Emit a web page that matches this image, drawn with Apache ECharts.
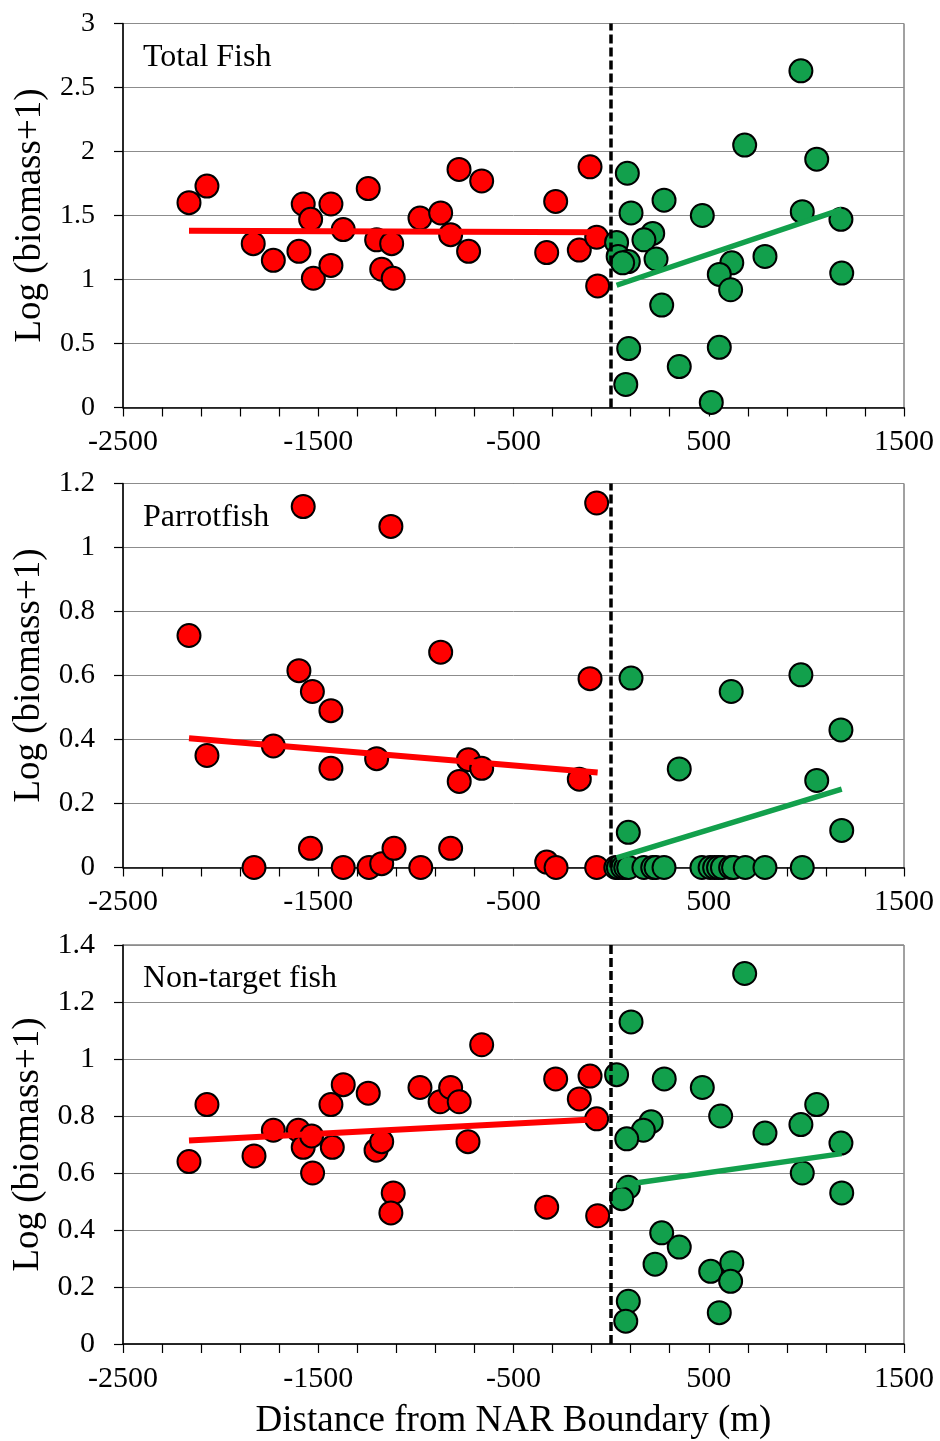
<!DOCTYPE html>
<html>
<head>
<meta charset="utf-8">
<script src="https://cdn.jsdelivr.net/npm/echarts/dist/echarts.min.js"></script>
<style>
html,body{margin:0;padding:0;background:#fff;}
#chart{width:940px;height:1441px;}
</style>
</head>
<body>
<div id="chart"></div>
<script>
// ---- Data (distance from NAR boundary in m, log(biomass+1)) ----
const panelTitles = ['Total Fish', 'Parrotfish', 'Non-target fish'];
const xTickLabels = [-2500, -1500, -500, 500, 1500];
const yMax = [3, 1.2, 1.4];
const yStep = [0.5, 0.2, 0.2];

const totalRed = [[-2162,1.60],[-2070,1.73],[-1833,1.28],[-1730,1.15],[-1599,1.22],[-1577,1.59],[-1539,1.47],[-1525,1.01],[-1435,1.59],[-1435,1.11],[-1372,1.39],[-1244,1.71],[-1201,1.31],[-1124,1.28],[-1175,1.08],[-1116,1.01],[-979,1.48],[-873,1.52],[-822,1.35],[-779,1.86],[-730,1.22],[-663,1.77],[-330,1.21],[-284,1.61],[-163,1.23],[-108,1.88],[-74,1.33],[-69,0.95]];
const totalGreen = [[83,1.83],[102,1.52],[28,1.29],[36,1.18],[88,1.14],[59,1.13],[213,1.36],[168,1.31],[271,1.62],[230,1.16],[259,0.80],[90,0.46],[75,0.18],[349,0.32],[513,0.04],[554,0.47],[467,1.50],[684,2.05],[618,1.13],[554,1.04],[612,0.92],[788,1.18],[972,2.63],[979,1.53],[1053,1.94],[1177,1.47],[1181,1.05]];
const totalRedTrend = [[-2162,1.380],[-69,1.370]];
const totalGreenTrend = [[28,0.955],[1181,1.548]];

const parrotRed = [[-2162,0.725],[-2070,0.35],[-1829,0],[-1730,0.38],[-1599,0.615],[-1577,1.128],[-1540,0.06],[-1530,0.55],[-1435,0.49],[-1435,0.31],[-1372,0],[-1240,0],[-1201,0.34],[-1175,0.012],[-1128,1.066],[-1112,0.06],[-975,0],[-873,0.673],[-822,0.06],[-778,0.269],[-731,0.337],[-663,0.31],[-330,0.017],[-282,0],[-163,0.276],[-108,0.59],[-74,1.139],[-74,0]];
const parrotGreen = [[24,0],[37,0],[59,0],[75,0],[90,0],[168,0],[213,0],[230,0],[271,0],[465,0],[507,0],[530,0],[550,0],[570,0],[612,0],[627,0],[687,0],[788,0],[979,0],[102,0.592],[88,0.11],[349,0.308],[615,0.55],[972,0.602],[1177,0.43],[1053,0.272],[1181,0.116]];
const parrotRedTrend = [[-2162,0.404],[-69,0.297]];
const parrotGreenTrend = [[28,0.03],[1181,0.245]];

const nonTargetRed = [[-2162,0.64],[-2070,0.84],[-1829,0.66],[-1730,0.75],[-1602,0.75],[-1577,0.69],[-1534,0.73],[-1529,0.60],[-1435,0.84],[-1428,0.69],[-1372,0.91],[-1244,0.88],[-1204,0.68],[-1175,0.71],[-1116,0.53],[-1128,0.46],[-979,0.90],[-876,0.85],[-822,0.90],[-778,0.85],[-733,0.71],[-663,1.05],[-330,0.48],[-284,0.93],[-163,0.86],[-108,0.94],[-74,0.79],[-69,0.45]];
const nonTargetGreen = [[684,1.30],[102,1.13],[28,0.945],[272,0.93],[467,0.90],[561,0.80],[1053,0.84],[205,0.78],[165,0.75],[80,0.72],[788,0.74],[972,0.77],[1177,0.705],[979,0.60],[1181,0.53],[88,0.55],[54,0.51],[259,0.39],[349,0.34],[225,0.28],[510,0.255],[618,0.285],[612,0.22],[88,0.15],[75,0.08],[554,0.11]];
const nonTargetRedTrend = [[-2162,0.714],[-69,0.789]];
const nonTargetGreenTrend = [[28,0.555],[1181,0.668]];

// ---- Styling / layout ----
const FONT = "'Liberation Serif', 'Times New Roman', serif";
const RED = '#ff0000';
const GREEN = '#12a04c';
const grids = [
  {left:123, top:23.5, width:781, height:384},
  {left:123, top:483.5, width:781, height:384},
  {left:123, top:945, width:781, height:399}
];
const yLabelSize = [28, 29, 30];
const titleTops = [42, 502, 963];

const panels = [
  {red: totalRed, green: totalGreen, redT: totalRedTrend, greenT: totalGreenTrend},
  {red: parrotRed, green: parrotGreen, redT: parrotRedTrend, greenT: parrotGreenTrend},
  {red: nonTargetRed, green: nonTargetGreen, redT: nonTargetRedTrend, greenT: nonTargetGreenTrend}
];

const option = {
  animation: false,
  backgroundColor: '#fff',
  title: panelTitles.map((t, i) => ({
    text: t, left: 143, top: titleTops[i], padding: 0,
    textStyle: {fontFamily: FONT, fontSize: 32, fontWeight: 'normal', color: '#000'}
  })),
  grid: grids.map(g => Object.assign({show: true, borderColor: '#444', borderWidth: 1, backgroundColor: 'transparent'}, g)),
  xAxis: grids.map((g, i) => ({
    type: 'value', gridIndex: i,
    min: xTickLabels[0], max: xTickLabels[xTickLabels.length - 1], interval: 1000,
    axisLine: {show: true, onZero: false, lineStyle: {color: '#000', width: 1.5}},
    axisTick: {show: true, inside: false, length: 9, lineStyle: {color: '#000', width: 1.2}},
    minorTick: {show: true, splitNumber: 5, length: 9, lineStyle: {color: '#000', width: 1.2}},
    splitLine: {show: false},
    axisLabel: {fontFamily: FONT, fontSize: 30, color: '#000', margin: 20, formatter: v => String(v)},
    name: i === 2 ? 'Distance from NAR Boundary (m)' : '',
    nameLocation: 'middle', nameGap: 59,
    nameTextStyle: {fontFamily: FONT, fontSize: 37, color: '#000'}
  })),
  yAxis: grids.map((g, i) => ({
    type: 'value', gridIndex: i, min: 0, max: yMax[i], interval: yStep[i],
    axisLine: {show: true, onZero: false, lineStyle: {color: '#000', width: 1.5}},
    axisTick: {show: true, inside: false, length: 9, lineStyle: {color: '#000', width: 1.2}},
    splitLine: {show: true, lineStyle: {color: '#8c8c8c', width: 1}},
    axisLabel: {fontFamily: FONT, fontSize: yLabelSize[i], color: '#000', margin: 28},
    name: 'Log (biomass+1)', nameLocation: 'middle', nameGap: 73,
    nameTextStyle: {fontFamily: FONT, fontSize: 37, color: '#000'}
  })),
  series: []
};

panels.forEach((p, i) => {
  option.series.push({
    type: 'scatter', xAxisIndex: i, yAxisIndex: i, data: p.red,
    symbol: 'circle', symbolSize: 23, z: 3,
    itemStyle: {color: RED, borderColor: '#000', borderWidth: 2, opacity: 1},
    markLine: {
      silent: true, symbol: ['none', 'none'], label: {show: false},
      lineStyle: {color: '#000', type: [9, 4], width: 3.5},
      data: [{xAxis: 0}]
    }
  });
  option.series.push({
    type: 'scatter', xAxisIndex: i, yAxisIndex: i, data: p.green,
    symbol: 'circle', symbolSize: 23, z: 3,
    itemStyle: {color: GREEN, borderColor: '#000', borderWidth: 2, opacity: 1}
  });
  option.series.push({
    type: 'line', xAxisIndex: i, yAxisIndex: i, data: p.redT,
    symbol: 'none', z: 4, lineStyle: {color: RED, width: 6}
  });
  option.series.push({
    type: 'line', xAxisIndex: i, yAxisIndex: i, data: p.greenT,
    symbol: 'none', z: 4, lineStyle: {color: GREEN, width: 5.5}
  });
});

const chart = echarts.init(document.getElementById('chart'), null, {renderer: 'canvas'});
chart.setOption(option);
</script>
</body>
</html>
